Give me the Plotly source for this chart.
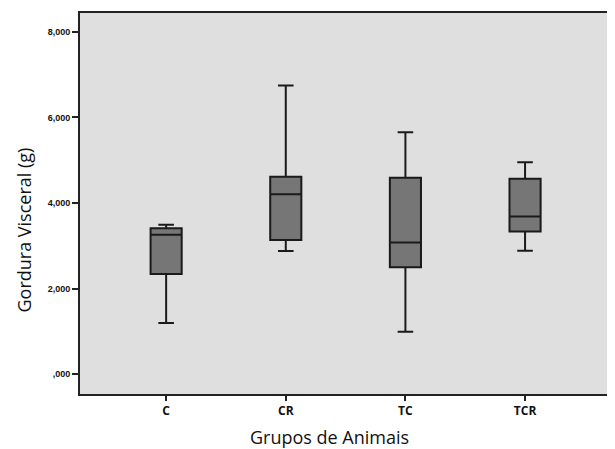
import plotly.graph_objects as go

groups = ["C", "CR", "TC", "TCR"]
lower_whisker = [1193, 2877, 992, 2884]
q1_values = [2342, 3133, 2496, 3334]
medians = [3256, 4202, 3078, 3682]
q3_values = [3412, 4613, 4590, 4567]
upper_whisker = [3489, 6745, 5652, 4954]

y_tick_vals = [0, 2000, 4000, 6000, 8000]
y_tick_text = [",000", "2,000", "4,000", "6,000", "8,000"]

fig = go.Figure()
fig.add_trace(go.Box(
    x=groups,
    q1=q1_values,
    median=medians,
    q3=q3_values,
    lowerfence=lower_whisker,
    upperfence=upper_whisker,
    width=0.26,
    whiskerwidth=0.5,
    fillcolor="#767676",
    line=dict(color="#1a1a1a", width=2),
    boxpoints=False,
    hoverinfo="skip",
    showlegend=False,
))

# page body has an 8px margin, so the figure is sized to fit the visible window
fig.update_layout(
    width=607, height=441,
    margin=dict(l=72, r=4, t=3, b=55),
    paper_bgcolor="white",
    plot_bgcolor="#dfdfdf",
    xaxis=dict(
        range=[-0.72, 3.71],
        showgrid=False, zeroline=False,
        showline=True, linecolor="#222", linewidth=2, mirror=True,
        ticks="outside", ticklen=5, tickwidth=2, tickcolor="#222",
        tickfont=dict(family="Open Sans", size=12, color="#111", weight="bold"),
    ),
    yaxis=dict(
        range=[-465, 8441],
        tickvals=y_tick_vals, ticktext=y_tick_text,
        showgrid=False, zeroline=False,
        showline=True, linecolor="#222", linewidth=2, mirror=True,
        ticks="outside", ticklen=6, tickwidth=2, tickcolor="#222",
        tickfont=dict(family="Liberation Sans", size=9, color="#111", weight="bold"),
    ),
    annotations=[
        dict(text="Grupos de Animais", xref="paper", yref="paper",
             x=0.471, y=-0.112,
             xanchor="center", yanchor="middle", showarrow=False,
             font=dict(family="Open Sans", size=18, color="#111")),
        dict(text="Gordura Visceral (g)", xref="paper", yref="paper",
             x=-0.105, y=0.43, textangle=-90,
             xanchor="center", yanchor="middle", showarrow=False,
             font=dict(family="Open Sans", size=18, color="#111")),
    ],
)

fig.write_html("out.html")
